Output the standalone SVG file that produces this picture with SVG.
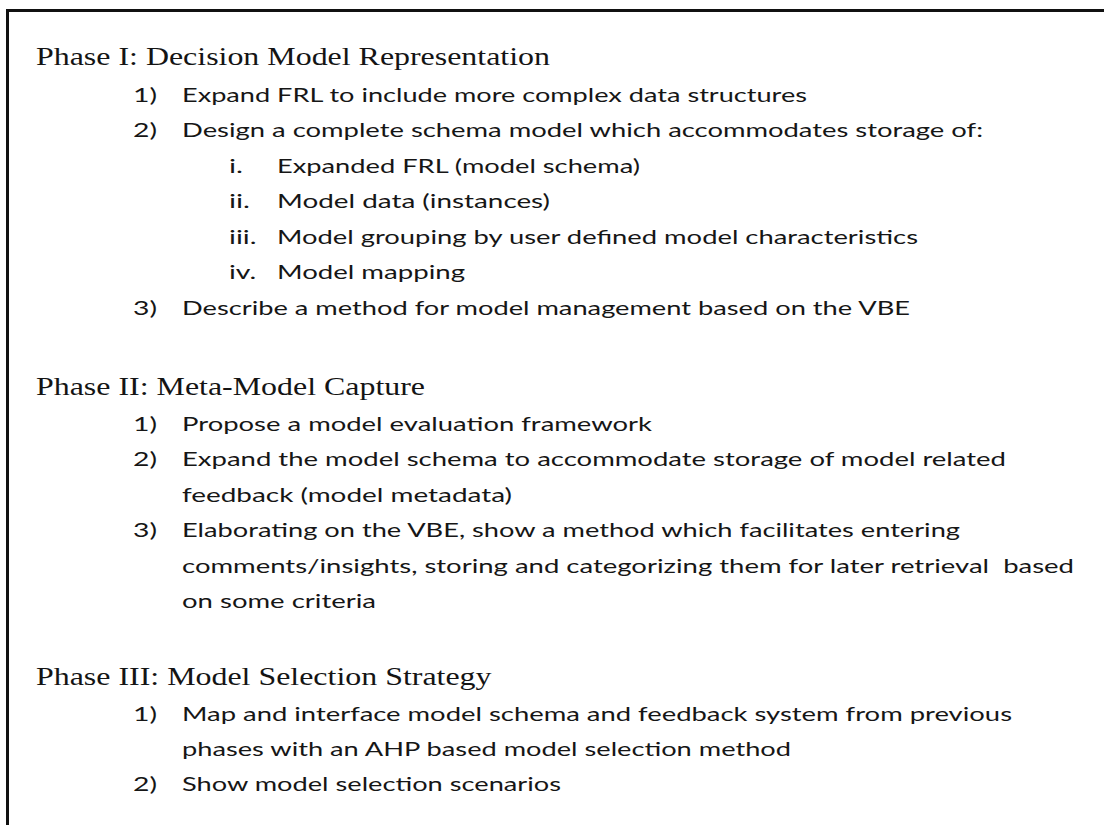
<svg xmlns="http://www.w3.org/2000/svg" width="1104" height="825" viewBox="0 0 1104 825">
<style>
.h{font-family:"Liberation Serif","Times New Roman",serif;font-size:26px;fill:#141414}
.t{font-family:Lato,"Open Sans",sans-serif;font-size:20px;fill:#161616}
.frame{fill:none;stroke:#111;stroke-width:3}
</style>
<rect width="1104" height="825" fill="#fff"/>
<path class="frame" d="M7.5 830 V10.5 H1110"/>
<g id="phase1">
<text class="h" x="36" y="65" textLength="514" lengthAdjust="spacingAndGlyphs">Phase I: Decision Model Representation</text>
<g id="p1-item1"><text class="t" x="133" y="101.5" textLength="24" lengthAdjust="spacingAndGlyphs">1)</text><text class="t" x="182" y="101.5" textLength="625" lengthAdjust="spacingAndGlyphs">Expand FRL to include more complex data structures</text></g>
<g id="p1-item2"><text class="t" x="133" y="137" textLength="24" lengthAdjust="spacingAndGlyphs">2)</text><text class="t" x="182" y="137" textLength="801" lengthAdjust="spacingAndGlyphs">Design a complete schema model which accommodates storage of:</text></g>
<g id="p1-item2-i"><text class="t" x="229" y="172.5" textLength="14" lengthAdjust="spacingAndGlyphs">i.</text><text class="t" x="277" y="172.5" textLength="363" lengthAdjust="spacingAndGlyphs">Expanded FRL (model schema)</text></g>
<g id="p1-item2-ii"><text class="t" x="229" y="208" textLength="21" lengthAdjust="spacingAndGlyphs">ii.</text><text class="t" x="277" y="208" textLength="273" lengthAdjust="spacingAndGlyphs">Model data (instances)</text></g>
<g id="p1-item2-iii"><text class="t" x="229" y="243.5" textLength="27.5" lengthAdjust="spacingAndGlyphs">iii.</text><text class="t" x="277" y="243.5" textLength="641" lengthAdjust="spacingAndGlyphs">Model grouping by user defined model characteristics</text></g>
<g id="p1-item2-iv"><text class="t" x="229" y="279" textLength="27.3" lengthAdjust="spacingAndGlyphs">iv.</text><text class="t" x="277" y="279" textLength="188" lengthAdjust="spacingAndGlyphs">Model mapping</text></g>
<g id="p1-item3"><text class="t" x="133" y="314.5" textLength="24" lengthAdjust="spacingAndGlyphs">3)</text><text class="t" x="182" y="314.5" textLength="728" lengthAdjust="spacingAndGlyphs">Describe a method for model management based on the VBE</text></g>
</g>
<g id="phase2">
<text class="h" x="36" y="394.5" textLength="389" lengthAdjust="spacingAndGlyphs">Phase II: Meta-Model Capture</text>
<g id="p2-item1"><text class="t" x="133" y="430.5" textLength="24" lengthAdjust="spacingAndGlyphs">1)</text><text class="t" x="182" y="430.5" textLength="470" lengthAdjust="spacingAndGlyphs">Propose a model evaluation framework</text></g>
<g id="p2-item2"><text class="t" x="133" y="466" textLength="24" lengthAdjust="spacingAndGlyphs">2)</text><text class="t" x="182" y="466" textLength="824" lengthAdjust="spacingAndGlyphs">Expand the model schema to accommodate storage of model related</text><text class="t" x="182" y="501.5" textLength="330" lengthAdjust="spacingAndGlyphs">feedback (model metadata)</text></g>
<g id="p2-item3"><text class="t" x="133" y="537" textLength="24" lengthAdjust="spacingAndGlyphs">3)</text><text class="t" x="182" y="537" textLength="778" lengthAdjust="spacingAndGlyphs">Elaborating on the VBE, show a method which facilitates entering</text><text class="t" x="182" y="572.5" textLength="892" lengthAdjust="spacingAndGlyphs" xml:space="preserve">comments/insights, storing and categorizing them for later retrieval  based</text><text class="t" x="182" y="608" textLength="194" lengthAdjust="spacingAndGlyphs">on some criteria</text></g>
</g>
<g id="phase3">
<text class="h" x="36" y="685" textLength="455.5" lengthAdjust="spacingAndGlyphs">Phase III: Model Selection Strategy</text>
<g id="p3-item1"><text class="t" x="133" y="721" textLength="24" lengthAdjust="spacingAndGlyphs">1)</text><text class="t" x="182" y="721" textLength="830" lengthAdjust="spacingAndGlyphs">Map and interface model schema and feedback system from previous</text><text class="t" x="182" y="756" textLength="609" lengthAdjust="spacingAndGlyphs">phases with an AHP based model selection method</text></g>
<g id="p3-item2"><text class="t" x="133" y="791" textLength="24" lengthAdjust="spacingAndGlyphs">2)</text><text class="t" x="182" y="791" textLength="379" lengthAdjust="spacingAndGlyphs">Show model selection scenarios</text></g>
</g>
</svg>
